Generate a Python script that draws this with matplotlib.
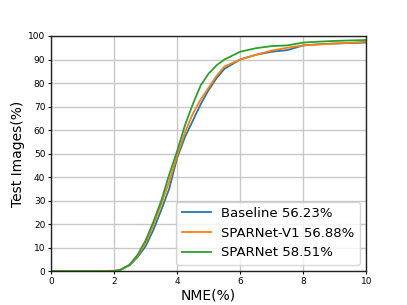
import matplotlib
matplotlib.use("Agg")
import matplotlib.pyplot as plt

nme = [0, 1.5, 2.0, 2.2, 2.5, 2.75, 3.0, 3.25, 3.5, 3.75, 4.0, 4.25, 4.5, 4.75,
       5.0, 5.25, 5.5, 6.0, 6.5, 7.0, 7.5, 8.0, 8.5, 9.0, 9.5, 10]
baseline = [0, 0, 0, 0.5, 2.5, 6, 10.5, 17.5, 26, 35, 48, 57, 64, 71,
            77, 82, 86, 90, 92, 93.3, 94, 96, 96.5, 96.8, 97, 97.2]
sparnet_v1 = [0, 0, 0.2, 0.6, 2.7, 6.5, 12, 19.5, 28.5, 38, 49, 59, 67, 73,
              78, 83, 87, 90, 92, 93.8, 95, 96, 96.4, 96.8, 97.1, 97.6]
sparnet = [0, 0, 0, 0.5, 2.8, 7, 13, 21, 30, 41, 51, 62, 71, 79,
           84, 87.5, 90, 93.3, 94.8, 95.7, 96, 97.2, 97.6, 97.9, 98.1, 98.3]
labels = ["Baseline 56.23%", "SPARNet-V1 56.88%", "SPARNet 58.51%"]
colors = ["#1f77b4", "#ff7f0e", "#2ca02c"]

fig = plt.figure(figsize=(4.07, 3.05), dpi=100)
ax = fig.add_axes([0.125, 0.111, 0.775, 0.771])
for ys, lab, c in zip([baseline, sparnet_v1, sparnet], labels, colors):
    ax.plot(nme, ys, color=c, lw=1.3, label=lab)
ax.set_xlim(0, 10)
ax.set_ylim(0, 100)
ax.set_xticks(range(0, 11, 2))
ax.set_yticks(range(0, 101, 10))
ax.grid(True, color="#c8c8c8", lw=1.0)
ax.set_axisbelow(True)
ax.tick_params(labelsize=6.5, length=2.5, width=0.8, pad=1.5)
for s in ax.spines.values():
    s.set_color("#222222")
    s.set_linewidth(1.0)
ax.set_xlabel("NME(%)", fontsize=10, labelpad=2)
ax.set_ylabel("Test Images(%)", fontsize=10, labelpad=2)
ax.legend(loc="lower right", fontsize=9.5, handlelength=2.2)
fig.savefig("out.png", dpi=100)
